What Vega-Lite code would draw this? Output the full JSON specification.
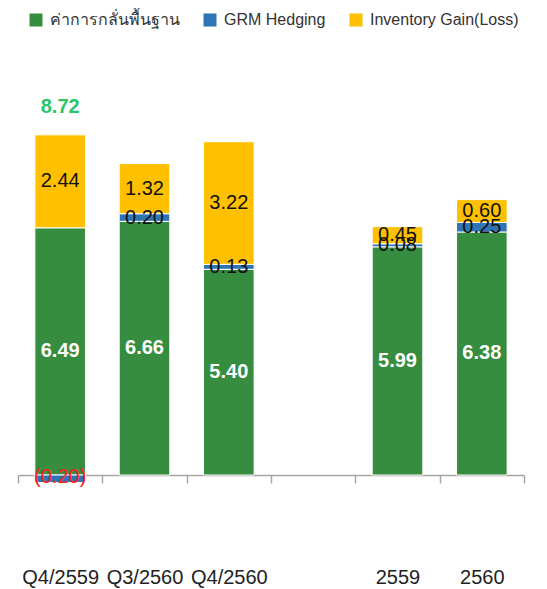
{
  "$schema": "https://vega.github.io/schema/vega-lite/v6.json",
  "width": 506,
  "height": 419,
  "autosize": "none",
  "padding": {"left": 18, "top": 56, "right": 23, "bottom": 114},
  "background": "white",
  "config": {
    "view": {"stroke": null},
    "font": "Liberation Sans"
  },
  "data": {
    "values": [
      {"cat": "Q4/2559", "series": "ค่าการกลั่นพื้นฐาน", "order": 1, "value": 6.49},
      {"cat": "Q4/2559", "series": "GRM Hedging", "order": 2, "value": -0.20},
      {"cat": "Q4/2559", "series": "Inventory Gain(Loss)", "order": 3, "value": 2.44, "total": 8.72},
      {"cat": "Q3/2560", "series": "ค่าการกลั่นพื้นฐาน", "order": 1, "value": 6.66},
      {"cat": "Q3/2560", "series": "GRM Hedging", "order": 2, "value": 0.20},
      {"cat": "Q3/2560", "series": "Inventory Gain(Loss)", "order": 3, "value": 1.32},
      {"cat": "Q4/2560", "series": "ค่าการกลั่นพื้นฐาน", "order": 1, "value": 5.40},
      {"cat": "Q4/2560", "series": "GRM Hedging", "order": 2, "value": 0.13},
      {"cat": "Q4/2560", "series": "Inventory Gain(Loss)", "order": 3, "value": 3.22},
      {"cat": "2559", "series": "ค่าการกลั่นพื้นฐาน", "order": 1, "value": 5.99},
      {"cat": "2559", "series": "GRM Hedging", "order": 2, "value": 0.08},
      {"cat": "2559", "series": "Inventory Gain(Loss)", "order": 3, "value": 0.45},
      {"cat": "2560", "series": "ค่าการกลั่นพื้นฐาน", "order": 1, "value": 6.38},
      {"cat": "2560", "series": "GRM Hedging", "order": 2, "value": 0.25},
      {"cat": "2560", "series": "Inventory Gain(Loss)", "order": 3, "value": 0.60}
    ]
  },
  "transform": [
    {"stack": "value", "groupby": ["cat"], "sort": [{"field": "order", "order": "ascending"}], "as": ["v0", "v1"]},
    {"calculate": "(datum.v0 + datum.v1) / 2", "as": "mid"},
    {"calculate": "datum.value < 0 ? '(' + format(-datum.value, '.2f') + ')' : format(datum.value, '.2f')", "as": "lab"}
  ],
  "encoding": {
    "x": {
      "field": "cat",
      "type": "nominal",
      "sort": null,
      "scale": {"domain": ["Q4/2559", "Q3/2560", "Q4/2560", "gap", "2559", "2560"], "paddingInner": 0, "paddingOuter": 0},
      "axis": {
        "title": null,
        "labelExpr": "datum.value == 'gap' ? '' : datum.value",
        "labelAngle": 0,
        "labelFontSize": 20,
        "labelColor": "#222222",
        "labelPadding": 84,
        "labelFont": "Liberation Sans",
        "tickBand": "extent",
        "tickSize": 8,
        "tickColor": "#A6A6A6",
        "domainColor": "#A6A6A6",
        "tickWidth": 1.5,
        "domainWidth": 1.5
      }
    }
  },
  "layer": [
    {
      "mark": {"type": "bar", "stroke": "white", "strokeWidth": 1, "width": {"band": 0.6}},
      "encoding": {
        "y": {"field": "v0", "type": "quantitative", "scale": {"domain": [0, 11], "nice": false, "zero": false}, "axis": null},
        "y2": {"field": "v1"},
        "color": {
          "field": "series",
          "type": "nominal",
          "scale": {"domain": ["ค่าการกลั่นพื้นฐาน", "GRM Hedging", "Inventory Gain(Loss)"], "range": ["#368C3F", "#2E75B6", "#FFC000"]},
          "legend": {
            "title": null,
            "orient": "none",
            "legendX": 10,
            "legendY": -44,
            "direction": "horizontal",
            "symbolType": "square",
            "symbolSize": 169,
            "symbolStrokeWidth": 0,
            "labelFontSize": 16,
            "labelColor": "#333333",
            "labelOffset": 6,
            "columnPadding": 22
          }
        }
      }
    },
    {
      "transform": [{"filter": "datum.order == 1"}],
      "mark": {"type": "text", "color": "white", "fontWeight": "bold", "fontSize": 20, "baseline": "middle"},
      "encoding": {
        "y": {"field": "mid", "type": "quantitative"},
        "text": {"field": "lab"}
      }
    },
    {
      "transform": [{"filter": "datum.order != 1 && datum.value >= 0"}],
      "mark": {"type": "text", "color": "#111111", "fontSize": 20, "baseline": "middle"},
      "encoding": {
        "y": {"field": "mid", "type": "quantitative"},
        "text": {"field": "lab"}
      }
    },
    {
      "transform": [{"filter": "datum.value < 0"}],
      "mark": {"type": "text", "color": "#FF2020", "fontSize": 20, "baseline": "middle", "dy": -2},
      "encoding": {
        "y": {"field": "mid", "type": "quantitative"},
        "text": {"field": "lab"}
      }
    },
    {
      "transform": [{"filter": "isValid(datum.total)"}],
      "mark": {"type": "text", "color": "#2DC46A", "fontWeight": "bold", "fontSize": 20, "baseline": "middle", "dy": -28},
      "encoding": {
        "y": {"field": "v1", "type": "quantitative"},
        "text": {"field": "total", "type": "quantitative", "format": ".2f"}
      }
    }
  ]
}
